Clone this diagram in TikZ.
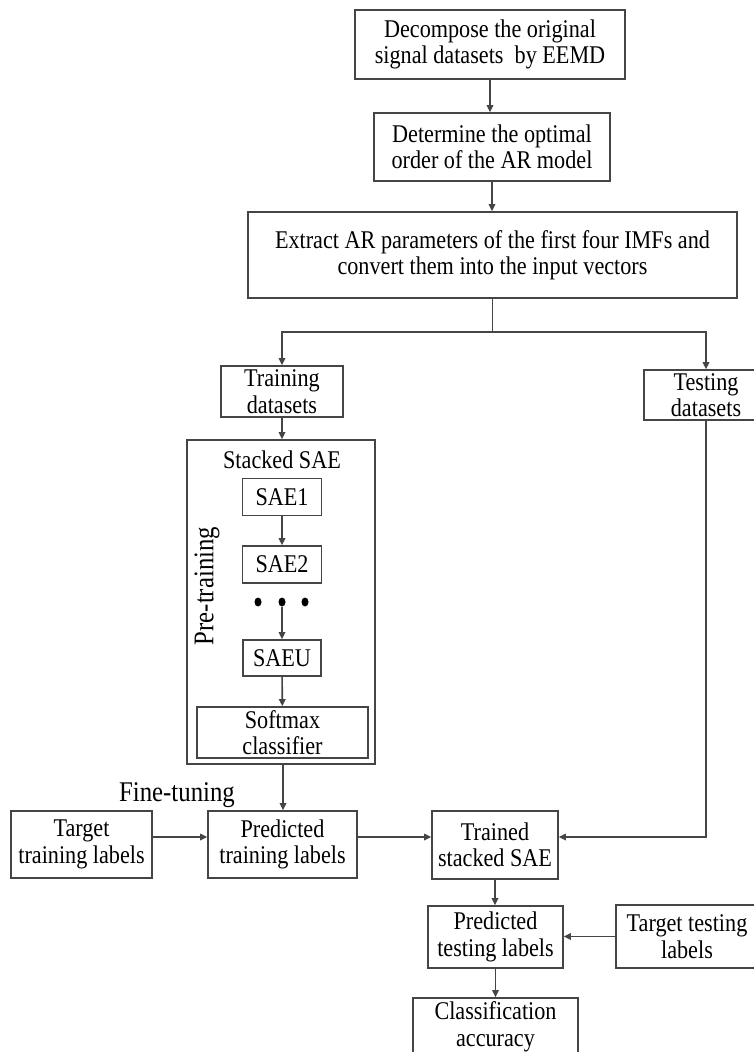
\documentclass[tikz,border=0pt]{standalone}
\usepackage{fontspec}
\setmainfont{Liberation Serif}
\newfontfamily\nf[FakeStretch=0.87]{Liberation Serif}
\usetikzlibrary{arrows.meta,shapes.geometric}
\definecolor{lc}{HTML}{454545}
\begin{document}
\begin{tikzpicture}[x=1pt,y=-1pt,
  ln/.style={draw=lc, line width=1.6pt},
  box/.style={ln, rectangle, inner sep=0pt, align=center, font=\nf\fontsize{25.5}{26.5}\selectfont, text=black},
  lbl/.style={inner sep=0pt, font=\nf\fontsize{25.5}{26.5}\selectfont, text=black},
  big/.style={inner sep=0pt, font=\nf\fontsize{28.5}{30}\selectfont, text=black},
  arr/.style={draw=lc, line width=1.6pt, -{Triangle[length=7pt,width=6.5pt,fill=lc]}},
  dot/.style={ellipse, fill=black, inner sep=0pt, minimum width=7pt, minimum height=9pt},
]
\useasboundingbox (0,0) rectangle (754,1052);
\clip (0,0) rectangle (754,1052);
\fill[white] (0,0) rectangle (754,1052);

\node[box, minimum width=270pt, minimum height=69pt] (dec) at (490,44.5) {Decompose the original\\signal datasets\ \ by EEMD};
\node[box, minimum width=236pt, minimum height=68pt] (det) at (492,147) {Determine the optimal\\order of the AR model};
\node[box, minimum width=489pt, minimum height=86pt] (ext) at (492.5,255) {Extract AR parameters of the first four IMFs and\\convert them into the input vectors};
\coordinate (split) at (492.5,332);
\node[box, minimum width=122pt, minimum height=51pt] (train) at (282,391.5) {Training\\datasets};
\node[box, minimum width=124pt, minimum height=50pt] (test) at (706,395) {Testing\\datasets};

\node[ln, rectangle, inner sep=0pt, minimum width=188pt, minimum height=324pt] (stack) at (281,602) {};
\node[lbl] (stl) at (282,460) {Stacked SAE};
\node[box, minimum width=79pt, minimum height=37pt] (sae1) at (282,497) {SAE1};
\node[box, minimum width=79pt, minimum height=37pt] (sae2) at (282,564.5) {SAE2};
\node[dot] (d1) at (258,602) {};
\node[dot] (d2) at (282,602) {};
\node[dot] (d3) at (305,602) {};
\node[box, minimum width=78pt, minimum height=36pt] (saeu) at (282,658) {SAEU};
\node[box, minimum width=171pt, minimum height=51pt] (soft) at (282.5,732.5) {Softmax\\classifier};
\node[big, rotate=90] (pre) at (207,586) {Pre-training};
\node[big] (fine) at (177,795) {Fine-tuning};

\node[box, minimum width=141pt, minimum height=67pt] (ttl) at (81.5,844.5) {Target\\training labels};
\node[box, minimum width=149pt, minimum height=67pt] (ptl) at (282.5,844.5) {Predicted\\training labels};
\node[box, minimum width=126pt, minimum height=68pt] (tss) at (495,845) {Trained\\stacked SAE};
\node[box, minimum width=135pt, minimum height=62pt] (pte) at (495.5,937) {Predicted\\testing labels};
\node[box, minimum width=142pt, minimum height=63pt] (tte) at (687,936.5) {Target testing\\labels};
\node[box, minimum width=165pt, minimum height=58pt] (cla) at (495.5,1027) {Classification\\accuracy};

\draw[arr] (dec.south) -- (dec.south |- det.north);
\draw[arr] (det.south) -- (det.south |- ext.north);
\draw[ln] (ext.south) -- (split);
\draw[arr] (split) -| (train.north);
\draw[arr] (split) -| (test.north);
\draw[arr] (train.south) -- (train.south |- stack.north);
\draw[arr] (sae1) -- (sae2);
\draw[arr] (d2) -- (saeu);
\draw[arr] (saeu) -- (soft);
\draw[arr] ([xshift=2pt]stack.south) -- ([xshift=2pt]stack.south |- ptl.north);
\draw[arr] ([yshift=7.5pt]ttl.east) -- ([yshift=7.5pt]ptl.west);
\draw[arr] ([yshift=7.5pt]ptl.east) -- ([yshift=7.5pt]ptl.east -| tss.west);
\draw[arr] (test.south) |- ([yshift=8pt]tss.east);
\draw[arr] (tss.south) -- (tss.south |- pte.north);
\draw[arr] (tte.west) -- (tte.west -| pte.east);
\draw[arr] (pte.south) -- (pte.south |- cla.north);
\end{tikzpicture}
\end{document}
